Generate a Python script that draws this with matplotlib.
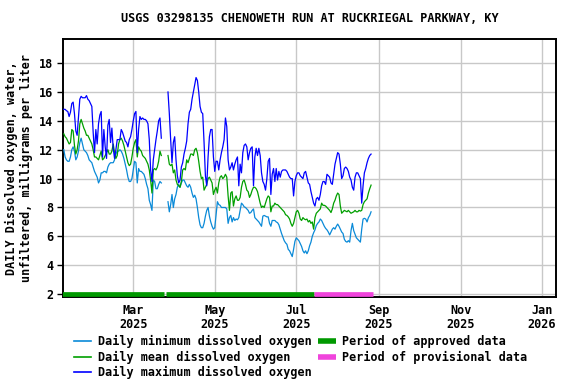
#!/usr/bin/env python3
"""USGS daily dissolved oxygen chart: daily min / mean / max plus data-status bars."""

import matplotlib

matplotlib.use("Agg")
import matplotlib.pyplot as plt
import numpy as np
from matplotlib.lines import Line2D

TITLE = "USGS 03298135 CHENOWETH RUN AT RUCKRIEGAL PARKWAY, KY"
YLABEL = "DAILY Dissolved oxygen, water,\nunfiltered, milligrams per liter"

START = "2025-01-08"  # first daily value
GAP_DAYS = 4  # missing days in late March

# daily maximum, before and after the March gap
max_a = [
    14.8, 14.8, 14.7, 14.65, 14.3, 14.6, 15.2, 15.3, 14.5, 13.3,
    13.0, 14.2, 15.5, 15.7, 15.6, 15.6, 15.6, 15.75, 15.5, 15.4,
    15.2, 15.0, 13.2, 11.8, 13.4, 12.4, 13.8, 14.4, 14.65, 11.5,
    13.4, 12.2, 11.4, 13.7, 14.1, 12.5, 13.5, 12.1, 11.4, 12.0,
    12.7, 12.7, 12.7, 13.4, 13.2, 12.9, 12.6, 12.5, 12.2, 12.7,
    12.9, 13.4, 14.0, 14.5, 14.65, 11.8, 13.4, 14.3, 14.1, 14.2,
    14.1, 14.1, 14.0, 13.8, 12.7, 10.6, 9.8, 11.3, 12.0, 12.7,
    13.3, 14.0, 14.2, 12.8,
]
max_b = [
    16.0, 14.5, 12.7, 11.1, 12.5, 12.9, 11.3, 10.2, 9.7, 9.9,
    10.8, 11.1, 11.7, 12.1, 12.6, 13.8, 14.6, 14.8, 15.5, 16.0,
    16.5, 17.0, 16.8, 16.0, 15.0, 14.6, 14.5, 12.5, 10.2, 9.5,
    11.5, 12.9, 13.4, 13.4, 11.5, 10.5, 11.2, 11.2, 10.6, 11.3,
    11.8, 12.2, 12.7, 14.2, 13.6, 11.3, 10.6, 10.8, 11.1, 10.6,
    11.0, 11.3, 11.5, 9.5, 11.0, 10.4, 11.8, 12.3, 12.4, 12.2,
    11.3, 11.8, 12.1, 12.2, 9.5, 11.5, 12.1, 11.6, 12.1, 11.6,
    10.4, 9.8, 9.6, 9.2, 10.0, 11.2, 11.4, 8.9, 10.3, 10.7,
    9.8, 10.7, 9.9, 10.5, 10.1, 10.5, 10.6, 10.6, 10.6, 10.5,
    10.3, 10.1, 10.0, 10.0, 8.8, 9.8, 10.2, 10.4, 10.4, 10.2,
    10.1, 10.0, 10.4, 10.5, 10.1, 9.7, 9.6, 9.1, 8.7, 8.3,
    8.1, 8.6, 8.7, 8.5, 8.9, 9.5, 9.8, 9.8, 9.6, 10.3,
    10.2, 10.1, 9.7, 9.6, 10.3, 11.0, 11.4, 11.8, 11.7, 11.0,
    10.0, 10.2, 10.7, 10.8, 10.7, 10.5, 10.1, 9.9, 9.4, 9.2,
    10.1, 10.4, 10.4, 10.2, 10.0, 8.3, 9.5, 10.4, 10.7, 11.1,
    11.4, 11.6, 11.7,
]

# daily mean
mean_a = [
    13.1, 12.9, 12.8, 12.6, 12.4, 12.5, 13.4, 13.3, 12.3, 11.7,
    12.0, 12.6, 13.8, 14.1, 13.8, 13.5, 13.3, 13.0, 13.0, 12.8,
    12.6, 12.4, 12.0, 11.5, 11.5, 11.4, 11.3, 11.6, 11.9, 11.3,
    11.4, 11.6, 11.8, 12.0, 11.7, 11.7, 11.9, 12.4, 11.8, 11.4,
    11.6, 12.4, 12.7, 12.8, 12.6, 12.3, 11.9, 11.5, 11.1, 10.9,
    11.0, 11.5, 12.1, 12.5, 12.7, 11.5, 12.2, 12.0, 11.9, 11.6,
    11.5, 11.4, 11.2, 11.0, 10.6, 9.9, 9.0, 10.6, 10.7, 10.6,
    10.8, 11.2, 11.9, 11.6,
]
mean_b = [
    11.6, 11.0, 10.9, 11.0, 10.4, 10.6, 9.9, 9.6, 9.5, 9.4,
    9.8, 10.6, 10.7, 10.6, 11.3, 11.1, 11.4, 11.7, 11.7, 11.6,
    12.0, 12.1, 11.8, 11.2, 10.5, 10.0, 10.1, 9.2, 9.4, 9.6,
    10.0, 10.1, 9.9, 9.7, 8.9, 9.2, 9.4, 9.0, 9.7, 10.1,
    10.2, 10.0, 10.1, 10.3, 10.1, 8.8, 7.8, 9.0, 9.1, 8.1,
    8.6, 8.8, 8.5, 8.5, 8.7, 9.4, 9.8, 9.9, 9.6, 9.2,
    9.1, 8.7, 8.9, 9.2, 9.4, 9.4, 9.3, 9.1, 8.7, 8.3,
    8.0, 8.1, 8.0, 8.3, 8.6, 8.8, 8.7, 7.7, 8.1, 8.1,
    8.3, 8.2, 8.2, 8.1, 8.0, 7.9, 7.8, 7.7, 7.5, 7.45,
    7.35, 7.2, 6.9, 6.7, 6.9, 7.3, 7.7, 7.8, 7.6, 7.2,
    7.1, 7.3, 7.2, 7.15, 7.2, 7.0, 7.1, 6.9, 7.0, 6.5,
    7.3, 7.6, 7.7, 7.8, 7.9, 8.3, 8.15, 8.15, 8.1, 8.0,
    7.9, 7.8, 7.65, 7.9, 8.3, 8.5, 8.8, 9.0, 8.9, 8.1,
    7.6, 7.7, 7.8, 7.75, 7.7, 7.8, 7.7, 7.6, 7.65, 7.7,
    7.8, 7.7, 7.7, 7.8, 7.75, 7.8, 8.2, 8.4, 8.5, 8.6,
    9.0, 9.3, 9.55,
]

# daily minimum
min_a = [
    12.0, 11.5, 11.3, 11.2, 11.2, 11.5, 12.0, 12.2, 11.9, 11.3,
    11.5, 11.9, 12.5, 12.8, 12.4, 12.0, 11.9, 11.8, 11.6, 11.3,
    11.2, 11.1, 10.8, 10.5, 10.3, 10.1, 9.7, 9.9, 10.4, 10.4,
    10.5, 10.5, 10.4, 10.8, 11.0, 11.1, 11.1, 11.1, 11.3, 11.7,
    11.9, 11.9, 12.0, 11.9, 11.7, 11.4, 11.0, 10.6, 10.1, 9.8,
    9.8, 10.0, 10.6, 11.2, 11.1, 9.7, 10.7, 10.5, 10.5, 10.4,
    10.3, 10.0, 9.6, 9.3, 8.5, 8.2, 7.8, 9.9, 9.8, 9.3,
    9.3, 9.6, 9.8, 9.7,
]
min_b = [
    8.4, 7.7, 8.2, 8.9, 8.0, 8.6, 8.9, 9.4, 9.6, 9.4,
    9.7, 9.9, 9.9, 9.7, 9.5, 9.4, 9.6, 9.4, 9.0, 8.7,
    8.85, 8.6, 8.0, 7.3, 6.8, 6.6, 6.6, 6.9, 7.4, 7.8,
    8.0, 7.4, 7.0, 6.7, 6.5, 6.6, 7.5, 8.4, 8.2, 8.15,
    8.0, 8.0, 8.0, 8.0, 7.9, 6.9, 7.3, 7.45, 7.0, 7.3,
    7.1, 7.2, 7.15, 7.3, 7.8, 8.3, 8.2, 8.05, 8.0, 7.9,
    7.8, 7.6, 7.65, 7.8, 7.9, 7.3, 7.2, 7.1, 7.0, 6.85,
    6.7, 7.4, 7.45, 7.4, 7.35, 7.35, 6.9, 6.7, 7.1, 7.1,
    7.1, 7.0, 6.95, 6.8, 6.5, 6.2, 5.95, 5.7, 5.55, 5.45,
    5.1, 5.0, 4.8, 4.6, 5.1, 5.65, 5.9, 5.8, 5.7, 5.5,
    5.3, 5.0, 4.85, 5.0, 4.8, 5.0, 5.35, 5.6, 6.0, 6.25,
    6.45, 6.75, 6.9, 7.0, 7.2, 7.1, 6.9, 6.7, 6.55, 6.45,
    6.3, 6.1, 6.3, 6.5, 6.6, 6.5, 6.7, 6.85, 6.7, 6.5,
    6.3, 6.2, 5.8, 5.65, 5.6, 5.7, 5.6, 6.4, 6.9, 6.4,
    6.15, 5.9, 5.8, 5.7, 5.6, 6.5, 7.2, 7.25, 7.2, 7.0,
    7.3, 7.45, 7.7,
]

# data-status periods (start, end)
approved_periods = [("2025-01-07", "2025-03-24"), ("2025-03-25 12:00", "2025-07-14")]
provisional_periods = [("2025-07-14", "2025-08-27 12:00")]

tick_months = ["2025-03-01", "2025-05-01", "2025-07-01", "2025-09-01", "2025-11-01", "2026-01-01"]
tick_labels = ["Mar\n2025", "May\n2025", "Jul\n2025", "Sep\n2025", "Nov\n2025", "Jan\n2026"]
y_ticks = [2, 4, 6, 8, 10, 12, 14, 16, 18]

C_MIN = "#0a8ad8"
C_MEAN = "#009f00"
C_MAX = "#0000ff"
C_APPROVED = "#009900"
C_PROVISIONAL = "#f044dc"
GRID = "#c8c8c8"
FONT = "DejaVu Sans Mono"


def series(a, b):
    return np.array(a + [np.nan] * GAP_DAYS + b, dtype=float)


def to_dt(s):
    return np.datetime64(s.replace(" ", "T")).astype("datetime64[m]").astype(object)


def main():
    dmin = series(min_a, min_b)
    dmean = series(mean_a, mean_b)
    dmax = series(max_a, max_b)
    dates = (np.datetime64(START) + np.arange(len(dmax))).astype("datetime64[D]").astype(object)

    plt.rcParams["font.family"] = FONT
    plt.rcParams["font.weight"] = "bold"

    fig = plt.figure(figsize=(5.76, 3.84), dpi=100)
    ax = fig.add_axes([63 / 576, 1 - 297 / 384, 493 / 576, 258 / 384])

    ticks = [to_dt(t) for t in tick_months]
    for t in ticks:
        ax.axvline(t, color=GRID, lw=1.0, zorder=0)
    for y in y_ticks:
        ax.axhline(y, color=GRID, lw=1.0, zorder=0)

    ax.plot(dates, dmin, color=C_MIN, lw=0.9, zorder=3)
    ax.plot(dates, dmean, color=C_MEAN, lw=0.9, zorder=4)
    ax.plot(dates, dmax, color=C_MAX, lw=0.9, zorder=5)

    for periods, col in ((approved_periods, C_APPROVED), (provisional_periods, C_PROVISIONAL)):
        for s, e in periods:
            ax.plot([to_dt(s), to_dt(e)], [2, 2], color=col, lw=3.4,
                    solid_capstyle="butt", zorder=6)

    ax.set_xlim(to_dt("2025-01-07 10:00"), to_dt("2026-01-11 10:00"))
    ax.set_ylim(1.8, 19.67)
    ax.set_xticks(ticks)
    ax.set_xticklabels(tick_labels, fontsize=8.5, fontweight="bold", linespacing=1.15)
    ax.set_yticks(y_ticks)
    ax.set_yticklabels([str(v) for v in y_ticks], fontsize=8.5, fontweight="bold")
    ax.tick_params(axis="x", length=0, pad=5)
    ax.tick_params(axis="y", length=4, width=1, direction="out", pad=3)
    for sp in ax.spines.values():
        sp.set_linewidth(1.4)
        sp.set_color("black")

    ax.set_ylabel(YLABEL, fontsize=8.5, fontweight="bold", labelpad=4, linespacing=1.2)
    fig.text(309.5 / 576, 1 - 19 / 384, TITLE, ha="center", va="center", fontsize=8.5, fontweight="bold")

    handles = [
        Line2D([], [], color=C_MIN, lw=1.2),
        Line2D([], [], color=C_MEAN, lw=1.2),
        Line2D([], [], color=C_MAX, lw=1.2),
        Line2D([], [], color=C_APPROVED, lw=4, solid_capstyle="butt"),
        Line2D([], [], color=C_PROVISIONAL, lw=4, solid_capstyle="butt"),
    ]
    labels = [
        "Daily minimum dissolved oxygen",
        "Daily mean dissolved oxygen",
        "Daily maximum dissolved oxygen",
        "Period of approved data",
        "Period of provisional data",
    ]
    fig.legend(handles, labels, ncol=2, loc="upper left", bbox_to_anchor=(74 / 576, 1 - 335 / 384),
               frameon=False, prop={"family": FONT, "weight": "bold", "size": 8.5},
               handlelength=1.45, handletextpad=0.55, columnspacing=0.6, labelspacing=0.22,
               borderaxespad=0, borderpad=0)

    fig.savefig("out.png", dpi=100)
    return 0


if __name__ == "__main__":
    raise SystemExit(main())
